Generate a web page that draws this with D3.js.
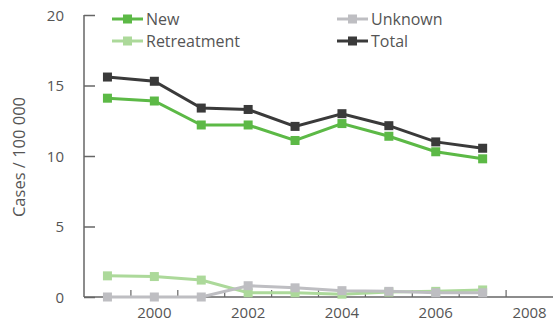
<!DOCTYPE html>
<html><head><meta charset="utf-8">
<script src="https://cdn.jsdelivr.net/npm/d3@7"></script>
<style>
body{margin:0;background:#fff;}
text{font-family:"Open Sans",sans-serif;fill:#555;}
</style></head>
<body>
<svg id="c" width="553" height="323"></svg>
<script>
const years = [1999,2000,2001,2002,2003,2004,2005,2006,2007];
const newCases = [14.1,13.9,12.2,12.2,11.1,12.3,11.4,10.3,9.8];
const retreatment = [1.5,1.45,1.2,0.3,0.3,0.2,0.35,0.4,0.5];
const unknown = [0,0,0,0.8,0.65,0.45,0.4,0.3,0.3];
const total = [15.6,15.3,13.4,13.3,12.1,13.0,12.15,11.0,10.55];
const yTicks = [0,5,10,15,20];
const xLabels = [2000,2002,2004,2006,2008];
const seriesNames = ["New","Retreatment","Unknown","Total"];
const colors = {"New":"#5cb946","Retreatment":"#acd99a","Unknown":"#bebec2","Total":"#3a3a3a"};

const svg = d3.select("#c");
const x = d3.scaleLinear().domain([1998.5,2008.5]).range([84,553]);
const y = d3.scaleLinear().domain([0,20]).range([297,15]);
const axisColor = "#666";

// y axis
const ya = svg.append("g").attr("transform","translate(84,0)")
  .call(d3.axisLeft(y).tickValues(yTicks).tickSize(-11).tickPadding(20).tickFormat(d3.format("d")));
ya.select(".domain").attr("stroke",axisColor).attr("stroke-width",1.5).attr("d","M0,15V297");
ya.selectAll(".tick line").attr("stroke",axisColor).attr("stroke-width",1.5);
ya.selectAll(".tick text").attr("font-size",15).attr("fill","#555").attr("dy","0.35em").attr("font-family","Open Sans");

// x axis
const xa = svg.append("g").attr("transform","translate(0,297)");
xa.append("line").attr("x1",84).attr("x2",553).attr("y1",0).attr("y2",0).attr("stroke",axisColor).attr("stroke-width",1.5);
const halfTicks = d3.range(1999.5,2008.5,1);
xa.selectAll("line.t").data(halfTicks).join("line").attr("class","t")
  .attr("x1",d=>x(d)).attr("x2",d=>x(d)).attr("y1",0).attr("y2",-7)
  .attr("stroke",axisColor).attr("stroke-width",1.2);
xa.selectAll("text").data(xLabels).join("text")
  .attr("x",d=>x(d)).attr("y",21).attr("text-anchor","middle")
  .attr("font-size",15).text(d=>d);

// y title
svg.append("text").attr("transform","translate(25,157) rotate(-90)")
  .attr("text-anchor","middle").attr("font-size",16.5).text("Cases / 100 000");

const data = {"New":newCases,"Retreatment":retreatment,"Unknown":unknown,"Total":total};
const line = d3.line().x((d,i)=>x(years[i])).y(d=>y(d));
["Retreatment","Unknown","New","Total"].forEach(name=>{
  const g = svg.append("g");
  g.append("path").datum(data[name]).attr("d",line).attr("fill","none")
    .attr("stroke",colors[name]).attr("stroke-width",3);
  g.selectAll("rect").data(data[name]).join("rect")
    .attr("x",(d,i)=>x(years[i])-4.5).attr("y",d=>y(d)-4.5)
    .attr("width",9).attr("height",9).attr("fill",colors[name]);
});

// legend
const legPos = {"New":[112,19],"Retreatment":[112,41],"Unknown":[337,19],"Total":[337,41]};
seriesNames.forEach(name=>{
  const [lx,ly] = legPos[name];
  const g = svg.append("g").attr("transform",`translate(${lx},${ly})`);
  g.append("line").attr("x1",0).attr("x2",31).attr("stroke",colors[name]).attr("stroke-width",3);
  g.append("rect").attr("x",11).attr("y",-4.5).attr("width",9).attr("height",9).attr("fill",colors[name]);
  g.append("text").attr("x",34).attr("y",0).attr("dy","0.35em").attr("font-size",16).text(name);
});
</script>
</body></html>
